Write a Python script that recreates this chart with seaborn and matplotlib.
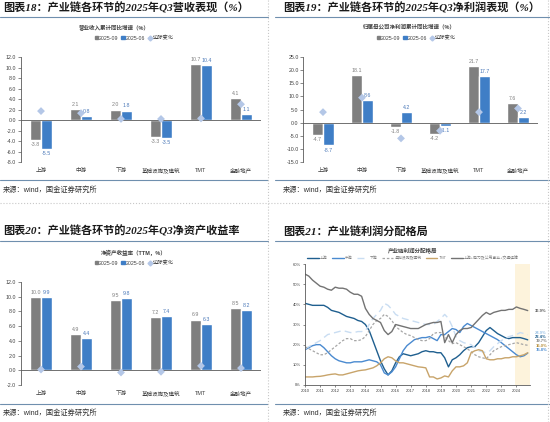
import numpy as np
import pandas as pd
import matplotlib
matplotlib.use("Agg")
import matplotlib.pyplot as plt
import seaborn as sns
from matplotlib.lines import Line2D
from matplotlib.patches import Patch

# Categories and bar data
categories = ['上游', '中游', '下游', '基础设施及建筑', 'TMT', '金融地产']
periods = ['2025-09', '2025-06']

rev_q3 = [-3.8, 2.1, 2.0, -3.3, 10.7, 4.1]
rev_q2 = [-5.5, 0.8, 1.8, -3.5, 10.4, 1.1]

np_q3 = [-4.7, 18.1, -1.8, -4.2, 21.7, 7.6]
np_q2 = [-8.7, 8.6, 4.2, -1.1, 17.7, 2.2]

roe_q3 = [10.0, 4.9, 9.5, 7.2, 6.9, 8.5]
roe_q2 = [9.9, 4.4, 9.8, 7.4, 6.3, 8.2]

# Profit share lines, quarterly 2010Q1 - 2024Q4 (%)
year_labels = [str(y) for y in range(2010, 2025)]
share_up = [40.5, 40.0, 39.5, 39.5, 39.5, 39.5, 38.5, 37.0, 36.5, 36.0, 35.0, 34.0,
            33.5, 33.0, 32.0, 31.5, 30.0, 27.0, 22.0, 17.0, 12.0, 8.0, 5.0, 7.0,
            11.0, 14.0, 15.5, 15.0, 14.5, 15.0, 15.5, 16.5, 17.0, 16.5, 16.5, 16.0,
            16.0, 13.5, 9.0, 12.5, 13.5, 15.0, 17.0, 18.5, 19.0, 19.0, 21.0, 24.0,
            27.0, 28.5, 27.0, 25.5, 24.5, 23.5, 23.0, 23.5, 23.5, 23.5, 23.0, 22.4]
share_mid = [17.5, 18.5, 19.5, 20.0, 20.0, 18.5, 16.5, 14.5, 13.0, 12.0, 11.5, 11.0,
             11.0, 11.5, 11.5, 11.5, 12.0, 12.5, 12.0, 11.5, 10.0, 6.0, 5.0, 6.5,
             9.0, 13.0, 17.0, 19.5, 21.0, 22.5, 23.0, 23.5, 23.5, 24.0, 23.0, 22.0,
             25.0, 25.0, 26.5, 28.0, 27.5, 26.0, 29.0, 30.5, 29.5, 28.5, 27.5, 26.5,
             25.5, 24.5, 23.5, 22.5, 21.0, 19.5, 18.0, 16.5, 15.0, 14.0, 14.5, 15.8]
share_down = [18.0, 19.0, 20.0, 21.0, 22.0, 23.5, 25.0, 25.5, 26.0, 26.5, 27.0, 26.5,
              26.0, 26.0, 26.5, 26.5, 27.0, 30.0, 33.0, 35.0, 37.0, 40.5, 39.5, 37.5,
              35.0, 34.0, 33.0, 32.5, 32.0, 31.5, 31.0, 30.5, 30.0, 30.0, 30.0, 31.5,
              33.0, 35.0, 33.0, 29.0, 24.0, 22.0, 21.0, 20.5, 20.0, 18.5, 17.0, 16.5,
              16.0, 17.0, 19.0, 20.5, 22.0, 23.0, 24.0, 24.5, 25.0, 26.0, 25.5, 24.9]
share_infra = [19.0, 18.0, 17.0, 16.0, 15.0, 15.0, 16.0, 17.5, 19.0, 20.5, 22.0, 23.0,
               23.0, 22.0, 22.0, 22.5, 24.0, 27.0, 30.0, 32.0, 33.0, 35.0, 34.0, 32.0,
               29.0, 27.5, 26.0, 25.0, 24.5, 23.5, 22.5, 22.0, 22.0, 23.0, 25.5, 26.0,
               26.0, 24.0, 22.0, 20.5, 21.0, 20.0, 19.0, 18.0, 16.5, 15.0, 14.0, 13.5,
               13.0, 15.0, 17.0, 18.0, 19.0, 19.5, 20.0, 20.5, 21.0, 20.5, 20.0, 19.7]
share_tmt = [4.0, 4.0, 4.0, 4.2, 4.3, 4.6, 5.0, 5.3, 5.5, 5.0, 5.0, 5.5,
             6.0, 6.5, 7.0, 7.3, 7.5, 8.0, 8.5, 9.5, 11.0, 13.0, 14.0, 13.5,
             12.0, 11.0, 11.0, 10.5, 10.0, 9.5, 9.0, 8.8, 8.5, 4.0, 4.0, 3.0,
             3.5, 4.5, 4.0, 7.0, 9.0, 9.0, 9.5, 11.0, 16.0, 17.0, 17.5, 17.0,
             13.0, 12.5, 12.5, 13.0, 13.0, 13.5, 13.5, 14.0, 14.0, 14.5, 15.0, 16.0]
share_combo = [55.0, 54.0, 52.0, 50.5, 49.0, 48.5, 47.5, 47.0, 48.5, 48.0, 48.0, 47.5,
               46.0, 45.0, 45.0, 44.0, 38.0, 35.0, 33.0, 32.0, 31.0, 27.0, 25.0, 26.5,
               30.0, 29.5, 29.0, 28.5, 28.0, 28.0, 28.0, 29.0, 30.0, 30.5, 31.0, 31.0,
               31.5, 21.0, 25.0, 21.0, 25.0, 27.0, 28.0, 28.0, 28.5, 30.5, 32.5, 34.5,
               36.0, 35.0, 36.0, 36.5, 37.0, 37.0, 37.5, 37.5, 38.7, 38.0, 37.5, 36.9]

CJK = ['Liberation Sans', 'Noto Sans CJK SC']
sns.set_style('white')
plt.rcParams['font.family'] = CJK
plt.rcParams['axes.unicode_minus'] = False

W, H = 550, 422
fig = plt.figure(figsize=(W / 100, H / 100), dpi=100)


def rect(x0, y0, x1, y1):
    return [x0 / W, 1 - y1 / H, (x1 - x0) / W, (y1 - y0) / H]


def fxy(x, y):
    return x / W, 1 - y / H


def hline(x0, x1, y, color, ls='-', lw=0.8):
    fig.add_artist(Line2D([x0 / W, x1 / W], [1 - y / H, 1 - y / H],
                          transform=fig.transFigure, color=color, lw=lw, ls=ls))


def vline(x, y0, y1, color, ls=':', lw=0.8):
    fig.add_artist(Line2D([x / W, x / W], [1 - y0 / H, 1 - y1 / H],
                          transform=fig.transFigure, color=color, lw=lw, ls=ls))


GRAY = '#7f7f7f'
BLUE = '#3f7ec6'
DIAM = '#b4c7e7'
TXT = '#404040'
RULE = '#6f8fae'


def bar_panel(box, q3, q2, ylim, step, chart_title, title_xy, legend_xy):
    ax = fig.add_axes(rect(*box))
    df = pd.DataFrame({
        'cat': categories * 2,
        'period': [periods[0]] * 6 + [periods[1]] * 6,
        'val': q3 + q2,
    })
    sns.barplot(data=df, x='cat', y='val', hue='period', order=categories,
                hue_order=periods, palette={periods[0]: GRAY, periods[1]: BLUE},
                width=0.56, legend=False, ax=ax, saturation=1)
    diff = np.array(q3) - np.array(q2)
    sns.scatterplot(x=np.arange(len(categories)), y=diff, marker='D', s=16,
                    color=DIAM, edgecolor='none', ax=ax, zorder=5, legend=False)
    ax.bar_label(ax.containers[0], fmt='%.1f', padding=1.5, fontsize=3.8, color=GRAY)
    ax.bar_label(ax.containers[1], fmt='%.1f', padding=1.5, fontsize=3.8, color='#4a78b8')
    ax.set_xlim(-0.5, 5.5)
    ax.set_ylim(*ylim)
    ax.set_yticks(np.arange(ylim[0], ylim[1] + 0.01, step))
    ax.set_yticklabels([f'{v:.1f}' for v in np.arange(ylim[0], ylim[1] + 0.01, step)])
    ax.axhline(0, color='#595959', lw=0.6, zorder=3)
    ax.set_xlabel('')
    ax.set_ylabel('')
    for s in ['top', 'right', 'bottom']:
        ax.spines[s].set_visible(False)
    ax.spines['left'].set_color('#595959')
    ax.spines['left'].set_linewidth(0.6)
    ax.tick_params(axis='y', length=2, width=0.5, pad=1.5, labelsize=3.8,
                   left=True, colors='#595959', labelcolor=TXT)
    ax.tick_params(axis='x', length=0, pad=4, labelsize=4, labelcolor=TXT)
    fig.text(*fxy(*title_xy), chart_title, fontsize=4, color=TXT,
             ha='center', va='center', fontweight='bold')
    handles = [Patch(color=GRAY, label=periods[0]), Patch(color=BLUE, label=periods[1]),
               Line2D([], [], marker='D', ls='none', color=DIAM, markersize=2.5,
                      label='边际变化')]
    fig.legend(handles=handles, loc='center', bbox_to_anchor=fxy(*legend_xy), ncol=3,
               fontsize=3.8, frameon=False, handlelength=0.6, handleheight=0.6,
               handletextpad=0.2, columnspacing=0.6, labelcolor=TXT)
    return ax


bar_panel((21, 57, 261, 162), rev_q3, rev_q2, (-8, 12), 2,
          '营业收入累计同比增速（%）', (114, 27), (134, 38))
bar_panel((303.5, 57, 537.5, 162), np_q3, np_q2, (-15, 25), 5,
          '归属母公司净利润累计同比增速（%）', (409, 27), (416, 38))
bar_panel((21, 282, 261, 385), roe_q3, roe_q2, (-2, 12), 2,
          '净资产收益率（TTM，%）', (134, 253), (134, 263))

# Profit distribution lines
ax4 = fig.add_axes(rect(305, 264, 530, 385))
x = np.arange(len(share_up))
series = [
    ('上游', share_up, '#1f5f8f', '-', 1.0),
    ('中游', share_mid, '#4a8ad0', '-', 1.0),
    ('下游', share_down, '#c9ddf2', (0, (5, 3)), 1.0),
    ('基础设施及建筑', share_infra, '#a6a6a6', (0, (2, 1.5)), 0.9),
    ('TMT', share_tmt, '#c8a46a', '-', 1.0),
    ('上游+电力及公用事业+交通运输', share_combo, '#737373', '-', 1.0),
]
ax4.axvspan(55.6, 59.6, color='#fdf3dc', zorder=0, lw=0)
for name, vals, col, ls, lw in series:
    sns.lineplot(x=x, y=np.array(vals) / 100, color=col, lw=lw, linestyle=ls,
                 ax=ax4, label=name)
ax4.set_xlim(0, 59.6)
ax4.set_ylim(0, 0.6)
ax4.set_yticks(np.arange(0, 0.61, 0.1))
ax4.set_yticklabels([f'{int(round(v * 100))}%' for v in np.arange(0, 0.61, 0.1)])
ax4.set_xticks(np.arange(0, 60, 4))
ax4.set_xticklabels(year_labels)
for s in ['top', 'right']:
    ax4.spines[s].set_visible(False)
for s in ['left', 'bottom']:
    ax4.spines[s].set_color('#595959')
    ax4.spines[s].set_linewidth(0.6)
ax4.tick_params(axis='both', length=1.5, width=0.5, pad=1.5, labelsize=3,
                bottom=True, left=True, colors='#595959', labelcolor=TXT)
ax4.legend(loc='center', bbox_to_anchor=fxy(413, 258), bbox_transform=fig.transFigure,
           ncol=6, fontsize=2.8, frameon=False, handlelength=3, handletextpad=0.4,
           columnspacing=1.0, labelcolor='#808080')
end_labels = [
    (share_combo, '#595959', -0.4),
    (share_down, '#9dc3e6', 0.7),
    (share_up, '#1f5f8f', 1.4),
    (share_infra, '#808080', 2.3),
    (share_tmt, '#b8913f', 3.4),
    (share_mid, '#4a8ad0', 1.8),
]
for vals, col, dy in end_labels:
    ax4.text(61, (vals[-1] + dy) / 100, f'{vals[-1]:.1f}%', fontsize=3.0, color=col,
             fontweight='bold', va='center', ha='left', clip_on=False)
fig.text(*fxy(413, 251), '产业链利润分配格局', fontsize=4, color=TXT,
         ha='center', va='center', fontweight='bold')

# Panel titles, rules and sources
TFONT = ['Liberation Serif', 'Noto Sans CJK SC']
titles = [
    ((3, 8), '图表18：产业链各环节的2025年Q3营收表现（%）'),
    ((283, 8), '图表19：产业链各环节的2025年Q3净利润表现（%）'),
    ((3, 231), '图表20：产业链各环节的2025年Q3净资产收益率'),
    ((283, 231), '图表21：产业链利润分配格局'),
]
for (tx, ty), t in titles:
    fig.text(*fxy(tx, ty), t, fontsize=8, fontweight='bold', style='italic',
             family=TFONT, color='#1a1a1a', ha='left', va='center')

sources = [(3, 190), (283, 190), (3, 413), (283, 413)]
for sx, sy in sources:
    fig.text(*fxy(sx, sy), '来源：wind，国金证券研究所', fontsize=5.2, color='#333333',
             ha='left', va='center')

for x0, x1 in [(0, 268), (275, 550)]:
    hline(x0, x1, 17, RULE)
    hline(x0, x1, 180, RULE)
    hline(x0, x1, 241, RULE)
    hline(x0, x1, 404, RULE)
hline(0, 550, 203, '#c8c8c8', ls=':', lw=0.8)
vline(268, 0, 422, '#c8c8c8')
vline(548, 0, 422, '#c8c8c8')

fig.savefig('out.png', dpi=100)
